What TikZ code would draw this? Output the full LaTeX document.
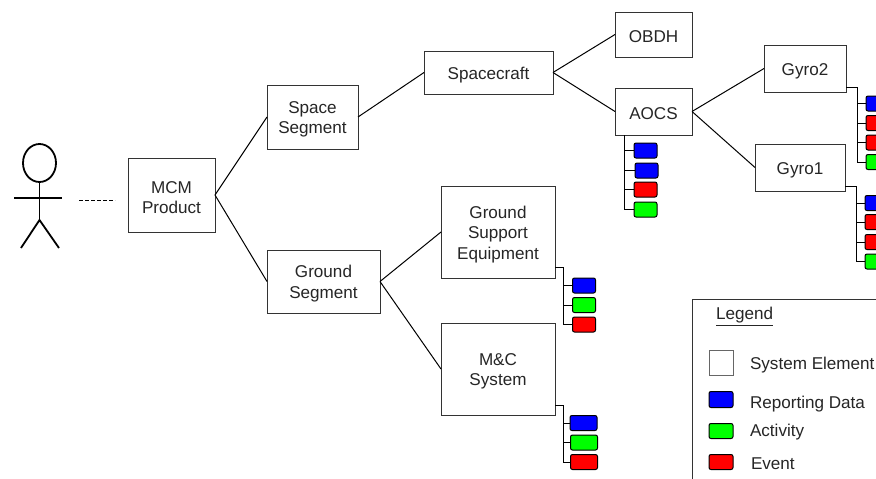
\documentclass[tikz,border=0pt]{standalone}
\usepackage{fontspec}
\setmainfont{Liberation Sans}
\newcommand{\txtdown}{\rule{0pt}{17pt}}
\begin{document}
\begin{tikzpicture}[x=1pt,y=-1pt,
  line width=1pt,
  every node/.style={inner sep=0pt,outer sep=0pt,font=\fontsize{17.1}{20.5}\selectfont,text=black!85},
  sysbox/.style={draw=black!80,fill=white,align=center},
  chipbox/.style={draw=black,rounded corners=2pt,minimum width=23pt,minimum height=15pt},
  blueChip/.style={chipbox,fill=blue},
  redChip/.style={chipbox,fill=red},
  greenChip/.style={chipbox,fill=green},
  conn/.style={draw=black,line width=1pt},
  lbl/.style={anchor=west}]
\clip (0,0) rectangle (876,479);
\fill[white] (0,0) rectangle (876,479);
% system elements
\node[sysbox,minimum width=87pt,minimum height=74pt] (mcm) at (171.5,195) {\txtdown MCM\\Product};
\node[sysbox,minimum width=91pt,minimum height=64pt] (space) at (312.5,117) {\txtdown Space\\Segment};
\node[sysbox,minimum width=113pt,minimum height=63pt] (ground) at (323.5,281.5) {\txtdown Ground\\Segment};
\node[sysbox,minimum width=129pt,minimum height=43pt] (craft) at (488.5,72.5) {\txtdown Spacecraft};
\node[sysbox,minimum width=77pt,minimum height=45pt] (obdh) at (653.5,34.5) {\txtdown OBDH};
\node[sysbox,minimum width=77pt,minimum height=47pt] (aocs) at (653.5,111.5) {\txtdown AOCS};
\node[sysbox,minimum width=82pt,minimum height=47pt] (gyrob) at (805,68.5) {\txtdown Gyro2};
\node[sysbox,minimum width=90pt,minimum height=47pt] (gyroa) at (800,167.5) {\txtdown Gyro1};
\node[sysbox,minimum width=114pt,minimum height=92pt] (gse) at (498,232) {\txtdown Ground\\Support\\Equipment};
\node[sysbox,minimum width=114pt,minimum height=92pt] (mc) at (498,369) {\txtdown M\&C\\System};
% tree links
\draw[conn] (mcm.east) -- (space.west);
\draw[conn] (mcm.east) -- (ground.west);
\draw[conn] (space.east) -- (craft.west);
\draw[conn] (ground.east) -- (gse.west);
\draw[conn] (ground.east) -- (mc.west);
\draw[conn] (craft.east) -- (obdh.west);
\draw[conn] (craft.east) -- (aocs.west);
\draw[conn] (aocs.east) -- (gyrob.west);
\draw[conn] (aocs.east) -- (gyroa.west);
% AOCS chips
\node[blueChip] (a1) at (645.5,150.5) {};
\node[blueChip] (a2) at (646.5,170.5) {};
\node[redChip] (a3) at (645.5,189.5) {};
\node[greenChip] (a4) at (645.5,209.5) {};
\coordinate (aocsbus) at (624,135);
\draw[conn] (aocsbus) |- (a4.west);
\draw[conn] (aocsbus |- a1.west) -- (a1.west);
\draw[conn] (aocsbus |- a2.west) -- (a2.west);
\draw[conn] (aocsbus |- a3.west) -- (a3.west);
% Gyro2 chips
\node[blueChip] (b1) at (877.5,103.5) {};
\node[redChip] (b2) at (877.5,123) {};
\node[redChip] (b3) at (877.5,142.5) {};
\node[greenChip] (b4) at (877.5,162) {};
\coordinate (gbstart) at (846,87);
\coordinate (gbbus) at (857,87);
\draw[conn] (gbstart) -- (gbbus) |- (b4.west);
\draw[conn] (gbbus |- b1.west) -- (b1.west);
\draw[conn] (gbbus |- b2.west) -- (b2.west);
\draw[conn] (gbbus |- b3.west) -- (b3.west);
% Gyro1 chips
\node[blueChip] (c1) at (876.5,203) {};
\node[redChip] (c2) at (876.5,222) {};
\node[redChip] (c3) at (876.5,242) {};
\node[greenChip] (c4) at (876.5,261.5) {};
\coordinate (gastart) at (845,186);
\coordinate (gabus) at (856,186);
\draw[conn] (gastart) -- (gabus) |- (c4.west);
\draw[conn] (gabus |- c1.west) -- (c1.west);
\draw[conn] (gabus |- c2.west) -- (c2.west);
\draw[conn] (gabus |- c3.west) -- (c3.west);
% GSE chips
\node[blueChip] (d1) at (584,285.5) {};
\node[greenChip] (d2) at (584,305) {};
\node[redChip] (d3) at (584,324.5) {};
\coordinate (dstart) at (555,267);
\coordinate (dbus) at (563,267);
\draw[conn] (dstart) -- (dbus) |- (d3.west);
\draw[conn] (dbus |- d1.west) -- (d1.west);
\draw[conn] (dbus |- d2.west) -- (d2.west);
% M&C chips
\node[blueChip,minimum width=27pt] (e1) at (583.5,423) {};
\node[greenChip,minimum width=27pt] (e2) at (584,442.5) {};
\node[redChip,minimum width=27pt] (e3) at (584,462) {};
\coordinate (estart) at (555,405);
\coordinate (ebus) at (563,405);
\draw[conn] (estart) -- (ebus) |- (e3.west);
\draw[conn] (ebus |- e1.west) -- (e1.west);
\draw[conn] (ebus |- e2.west) -- (e2.west);
% actor
\draw[line width=1.8pt] (39.5,163) ellipse (16.5 and 19);
\coordinate (head) at (39.5,182);
\coordinate (hip) at (39.5,220);
\coordinate (armL) at (14,198);
\coordinate (armR) at (62,198);
\coordinate (legL) at (21,248);
\coordinate (legR) at (59,248);
\draw[line width=1.8pt] (head) -- (hip);
\draw[line width=1.8pt] (armL) -- (armR);
\draw[line width=1.8pt] (legL) -- (hip) -- (legR);
\coordinate (dashA) at (79,200);
\coordinate (dashB) at (115,200);
\draw[line width=1pt,dash pattern=on 4pt off 2pt] (dashA) -- (dashB);
% legend
\node[draw=black!80,minimum width=300pt,minimum height=300pt,anchor=north west] (legend) at (692,299) {};
\node[lbl] (legendt) at (716,316.5) {\underline{Legend}};
\node[draw=black!60,fill=white,minimum width=24pt,minimum height=25pt] (ksys) at (721,362.5) {};
\node[blueChip,minimum width=24pt,minimum height=16pt] (kblue) at (721,399.5) {};
\node[greenChip,minimum width=24pt,minimum height=15pt] (kgreen) at (721,431) {};
\node[redChip,minimum width=24pt,minimum height=15pt] (kred) at (721,462) {};
\node[lbl] (t1) at (750,365) {System Element};
\node[lbl] (t2) at (750,404) {Reporting Data};
\node[lbl] (t3) at (750,432) {Activity};
\node[lbl] (t4) at (751,464) {Event};
\end{tikzpicture}
\end{document}
